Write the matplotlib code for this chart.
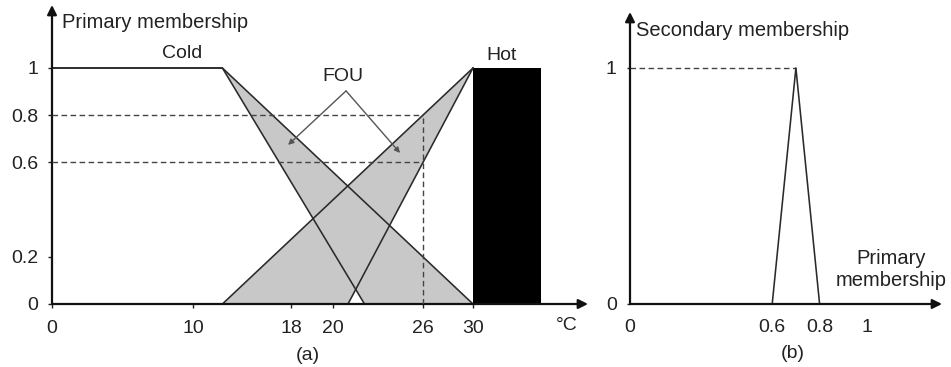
import numpy as np
import matplotlib
matplotlib.use('Agg')
import matplotlib.pyplot as plt
from matplotlib.ticker import NullLocator

plt.rcParams['font.family'] = ['Liberation Sans', 'DejaVu Sans']

W, H = 951, 367

# (a) interval type-2 sets on temperature
temp_ticks = [0, 10, 18, 20, 26, 30]
mu_ticks = [0, 0.2, 0.6, 0.8, 1]
cold_umf_t = [0, 12.4, 30]
cold_umf_mu = [1, 1, 0]
cold_lmf_t = [0, 12.4, 22.1]
cold_lmf_mu = [1, 1, 0]
hot_umf_t = [12.4, 30]
hot_umf_mu = [0, 1]
hot_lmf_t = [21.0, 30]
hot_lmf_mu = [0, 1]
hot_bar = [30, 35.4]
cut_t = 26
cut_mu = [0.8, 0.6]

# (b) secondary membership at 26 degrees
sec_x = [0.6, 0.7, 0.8]
sec_y = [0, 1, 0]
sec_xticks = [0, 0.6, 0.8, 1]
sec_yticks = [0, 1]

# the temperature axis in the figure is schematic, not linear
knot_t = [0, 10, 18, 20, 26, 30, 45]
knot_px = [0, 141, 239, 281, 371, 421, 608.5]


def fwd(t):
    return np.interp(t, knot_t, knot_px)


def inv(p):
    return np.interp(p, knot_px, knot_t)


def px(x, y):
    return x / W, 1 - y / H


line_c = '#2a2a2a'
dash_c = '#444444'
gray = '#c8c8c8'
fs = 14

fig = plt.figure(figsize=(W / 100, H / 100), dpi=100)

# ---- panel (a)
ax = fig.add_axes([52 / W, (H - 304) / H, 548 / W, 304 / H])
ax.set_xscale('function', functions=(fwd, inv))
ax.set_xlim(0, inv(548))
ax.set_ylim(0, 304 / 236)

cold_x = cold_umf_t[1:] + cold_lmf_t[1:][::-1]
cold_y = cold_umf_mu[1:] + cold_lmf_mu[1:][::-1]
hot_x = hot_umf_t + hot_lmf_t[::-1]
hot_y = hot_umf_mu + hot_lmf_mu[::-1]
ax.fill(cold_x, cold_y, color=gray, lw=0, zorder=1)
ax.fill(hot_x, hot_y, color=gray, lw=0, zorder=1)
ax.fill_between(hot_bar, 0, 1, color='black', lw=0, zorder=2)

for xs, ys in [(cold_umf_t, cold_umf_mu), (cold_lmf_t, cold_lmf_mu),
               (hot_umf_t, hot_umf_mu), (hot_lmf_t, hot_lmf_mu)]:
    ax.plot(xs, ys, color=line_c, lw=1.15, zorder=3)

ax.hlines(cut_mu, 0, cut_t, colors=dash_c, lw=1, linestyles=(0, (4, 2.5)), zorder=4)
ax.vlines(cut_t, 0, max(cut_mu), colors=dash_c, lw=1, linestyles=(0, (4, 2.5)), zorder=4)

ax.set_xticks(temp_ticks)
ax.set_xticklabels([str(t) for t in temp_ticks])
ax.xaxis.set_minor_locator(NullLocator())
ax.set_yticks(mu_ticks)
ax.set_yticklabels(['0', '0.2', '0.6', '0.8', '1'])
ax.tick_params(length=3, width=1, labelsize=fs, colors='#222222')
ax.tick_params(axis='x', pad=8.5)
ax.tick_params(axis='y', pad=6.8)
for s in ax.spines.values():
    s.set_visible(False)
ax.patch.set_alpha(0)

arr = dict(arrowstyle='-|>', color='#111111', lw=1.6, mutation_scale=14, shrinkA=0, shrinkB=0)
ax.annotate('', xy=(536 / 548, 0), xytext=(0, 0), xycoords='axes fraction', arrowprops=arr)
ax.annotate('', xy=(0, 299 / 304), xytext=(0, 0), xycoords='axes fraction', arrowprops=arr)

ax.text(9.2, 1.063, 'Cold', ha='center', va='center', fontsize=fs, color='#222222')
ax.text(32.3, 1.055, 'Hot', ha='center', va='center', fontsize=fs, color='#222222')
ax.text(20.67, 0.966, 'FOU', ha='center', va='center', fontsize=fs, color='#222222')
fou = dict(arrowstyle='-|>', color='#555555', lw=1, mutation_scale=8, shrinkA=0, shrinkB=0)
ax.annotate('', xy=(17.76, 0.674), xytext=(20.87, 0.903), arrowprops=fou)
ax.annotate('', xy=(24.47, 0.64), xytext=(20.87, 0.903), arrowprops=fou)

fig.text(*px(62, 23), 'Primary membership', ha='left', va='center', fontsize=14.5, color='#222222')
fig.text(*px(567, 326), '°C', ha='center', va='center', fontsize=fs, color='#222222')
fig.text(*px(308, 355), '(a)', ha='center', va='center', fontsize=fs, color='#222222')

# ---- panel (b)
bx = fig.add_axes([630 / W, (H - 304) / H, 318 / W, 304 / H])
bx.set_xlim(0, 318 / 237)
bx.set_ylim(0, 304 / 236)
bx.plot(sec_x, sec_y, color=line_c, lw=1.15, zorder=3)
bx.hlines(max(sec_y), 0, sec_x[1], colors=dash_c, lw=1, linestyles=(0, (4, 2.5)))
bx.set_xticks(sec_xticks)
bx.set_xticklabels(['0', '0.6', '0.8', '1'])
bx.set_yticks(sec_yticks)
bx.set_yticklabels(['0', '1'])
bx.tick_params(axis='x', length=0, pad=10.5, labelsize=fs, colors='#222222')
bx.tick_params(axis='y', length=2, width=1, pad=7.5, labelsize=fs, colors='#222222')
for s in bx.spines.values():
    s.set_visible(False)
bx.patch.set_alpha(0)
bx.annotate('', xy=(312 / 318, 0), xytext=(0, 0), xycoords='axes fraction', arrowprops=arr)
bx.annotate('', xy=(0, 292 / 304), xytext=(0, 0), xycoords='axes fraction', arrowprops=arr)

fig.text(*px(636, 30), 'Secondary membership', ha='left', va='center', fontsize=14.5, color='#222222')
fig.text(*px(891, 270), 'Primary\nmembership', ha='center', va='center', fontsize=14.5,
         color='#222222', linespacing=1.2)
fig.text(*px(793, 353), '(b)', ha='center', va='center', fontsize=fs, color='#222222')

fig.savefig('out.png', dpi=100)
